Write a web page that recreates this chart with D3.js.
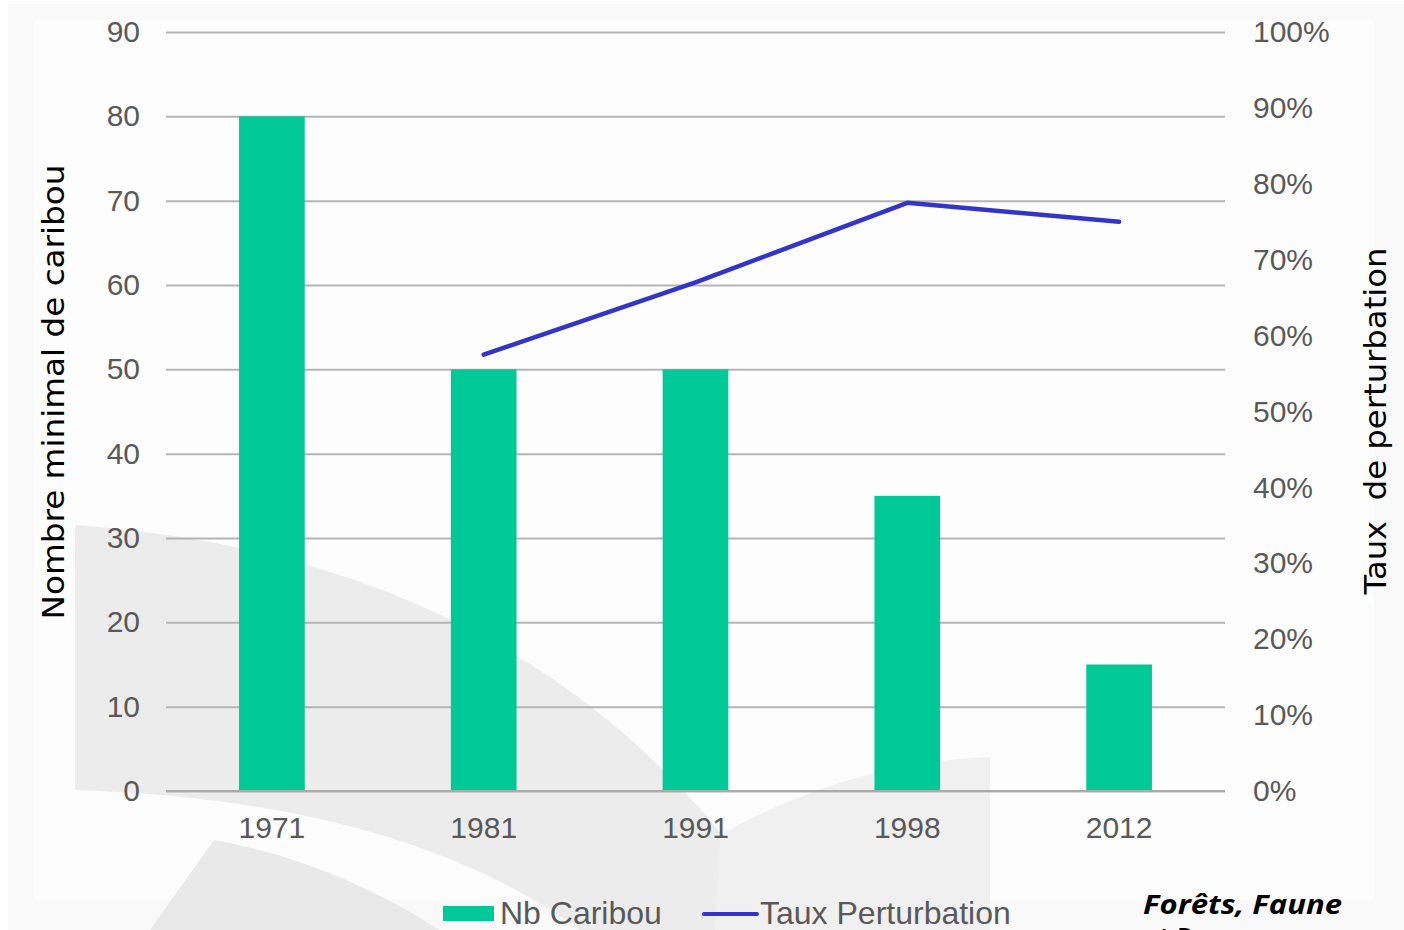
<!DOCTYPE html>
<html>
<head>
<meta charset="utf-8">
<script src="https://cdn.jsdelivr.net/npm/d3@7"></script>
<style>
  body { margin: 0; background: #ffffff; }
  .tick text { font-family: "Liberation Sans", Arial, sans-serif; fill: #595959; }
</style>
</head>
<body>
<div id="chart"></div>
<script>
// data
var years = ["1971", "1981", "1991", "1998", "2012"];
var nbCaribou = [80, 50, 50, 35, 15];
var tauxPerturbation = [null, 57.5, 67, 77.5, 75];
var leftTicks = [0, 10, 20, 30, 40, 50, 60, 70, 80, 90];
var rightTicks = [0, 10, 20, 30, 40, 50, 60, 70, 80, 90, 100];
var legendLabels = ["Nb Caribou", "Taux Perturbation"];

var W = 1404, H = 930;
var margin = {left: 166, right: 179, top: 32, bottom: 139};
var width = W - margin.left - margin.right;
var height = H - margin.top - margin.bottom;

var green = "#00c896";
var blue = "#3434c8";

var svg = d3.select("#chart")
  .append("svg")
  .attr("width", W)
  .attr("height", H);

// light background panel and faint watermark shapes
svg.append("rect")
  .attr("x", 8).attr("y", 4)
  .attr("width", W - 8).attr("height", H - 4)
  .attr("fill", "#f9f9f9");
svg.append("rect")
  .attr("x", 34).attr("y", 20)
  .attr("width", 1340).attr("height", 880)
  .attr("fill", "#fdfdfd");
svg.append("path")
  .attr("d", "M75,525 Q560,560 790,930 L580,930 Q400,800 75,790 Z")
  .attr("fill", "#ececec");
svg.append("path")
  .attr("d", "M214,840 L150,930 L440,930 Q330,860 214,840 Z")
  .attr("fill", "#e9e9e9");
svg.append("path")
  .attr("d", "M715,930 L720,835 Q850,762 990,757 L990,930 Z")
  .attr("fill", "#f0f0f0");

var g = svg.append("g")
  .attr("transform", "translate(" + margin.left + "," + margin.top + ")");

// scales
var xScale = d3.scaleBand()
  .domain(years)
  .range([0, width])
  .paddingInner(0.69)
  .paddingOuter(0.345);

var yLeft = d3.scaleLinear()
  .domain([0, 90])
  .range([height, 0]);

var yRight = d3.scaleLinear()
  .domain([0, 100])
  .range([height, 0]);

// left axis with gridlines
var gLeft = g.append("g")
  .call(d3.axisLeft(yLeft).tickValues(leftTicks).tickSize(-width).tickPadding(26));
gLeft.select(".domain").remove();
gLeft.selectAll(".tick line").attr("stroke", "#b4b4b4").attr("stroke-width", 2);
gLeft.selectAll(".tick text").attr("font-size", "30px");

// right axis
var gRight = g.append("g")
  .attr("transform", "translate(" + width + ",0)")
  .call(d3.axisRight(yRight).tickValues(rightTicks).tickSize(0).tickPadding(28)
    .tickFormat(function(d) { return d + "%"; }));
gRight.select(".domain").remove();
gRight.selectAll(".tick text").attr("font-size", "30px");

// bottom axis
var gX = g.append("g")
  .attr("transform", "translate(0," + height + ")")
  .call(d3.axisBottom(xScale).tickSize(0).tickPadding(26));
gX.select(".domain").remove();
gX.selectAll(".tick text").attr("font-size", "30px");

// bars
g.selectAll(".bar")
  .data(years)
  .enter().append("rect")
  .attr("class", "bar")
  .attr("x", function(d) { return xScale(d); })
  .attr("width", xScale.bandwidth())
  .attr("y", function(d, i) { return yLeft(nbCaribou[i]); })
  .attr("height", function(d, i) { return height - yLeft(nbCaribou[i]); })
  .attr("fill", green);

// baseline drawn above bars
g.append("line")
  .attr("x1", 0).attr("x2", width)
  .attr("y1", height).attr("y2", height)
  .attr("stroke", "#ababab").attr("stroke-width", 2);

// line series
var lineData = years.map(function(y, i) { return {year: y, v: tauxPerturbation[i]}; });
var line = d3.line()
  .defined(function(d) { return d.v != null; })
  .x(function(d) { return xScale(d.year) + xScale.bandwidth() / 2; })
  .y(function(d) { return yRight(d.v); });

g.append("path")
  .datum(lineData)
  .attr("d", line)
  .attr("fill", "none")
  .attr("stroke", blue)
  .attr("stroke-width", 4.5)
  .attr("stroke-linecap", "round")
  .attr("stroke-linejoin", "round");

// axis titles
svg.append("text")
  .attr("transform", "translate(64,392) rotate(-90)")
  .attr("text-anchor", "middle")
  .attr("font-family", "'DejaVu Sans', sans-serif")
  .attr("font-size", "30px")
  .attr("textLength", 455)
  .attr("lengthAdjust", "spacingAndGlyphs")
  .attr("fill", "#000")
  .text("Nombre minimal de caribou");

svg.append("text")
  .attr("transform", "translate(1386,421) rotate(-90)")
  .attr("text-anchor", "middle")
  .attr("font-family", "'DejaVu Sans', sans-serif")
  .attr("font-size", "30px")
  .attr("textLength", 347)
  .attr("lengthAdjust", "spacingAndGlyphs")
  .attr("fill", "#000")
  .style("white-space", "pre")
  .text("Taux  de perturbation");

// legend
var legend = svg.append("g");
legend.append("rect")
  .attr("x", 443).attr("y", 906)
  .attr("width", 51).attr("height", 15)
  .attr("fill", green);
legend.append("text")
  .attr("x", 500).attr("y", 924)
  .attr("font-family", "'Liberation Sans', Arial, sans-serif")
  .attr("font-size", "32px")
  .attr("fill", "#595959")
  .text(legendLabels[0]);
legend.append("line")
  .attr("x1", 704).attr("x2", 757)
  .attr("y1", 914).attr("y2", 914)
  .attr("stroke", blue).attr("stroke-width", 4)
  .attr("stroke-linecap", "round");
legend.append("text")
  .attr("x", 760).attr("y", 924)
  .attr("font-family", "'Liberation Sans', Arial, sans-serif")
  .attr("font-size", "32px")
  .attr("fill", "#595959")
  .text(legendLabels[1]);

// source logo text (second line runs off the bottom as in the original)
svg.append("text")
  .attr("x", 1143).attr("y", 914)
  .attr("font-family", "'Open Sans', sans-serif")
  .attr("font-weight", 700)
  .attr("font-style", "italic")
  .attr("font-size", "26px")
  .attr("textLength", 199)
  .attr("lengthAdjust", "spacingAndGlyphs")
  .attr("fill", "#000")
  .text("Forêts, Faune");
svg.append("text")
  .attr("x", 1143).attr("y", 947)
  .attr("font-family", "'Open Sans', sans-serif")
  .attr("font-weight", 700)
  .attr("font-style", "italic")
  .attr("font-size", "26px")
  .attr("fill", "#000")
  .text("et Parcs");
</script>
</body>
</html>
